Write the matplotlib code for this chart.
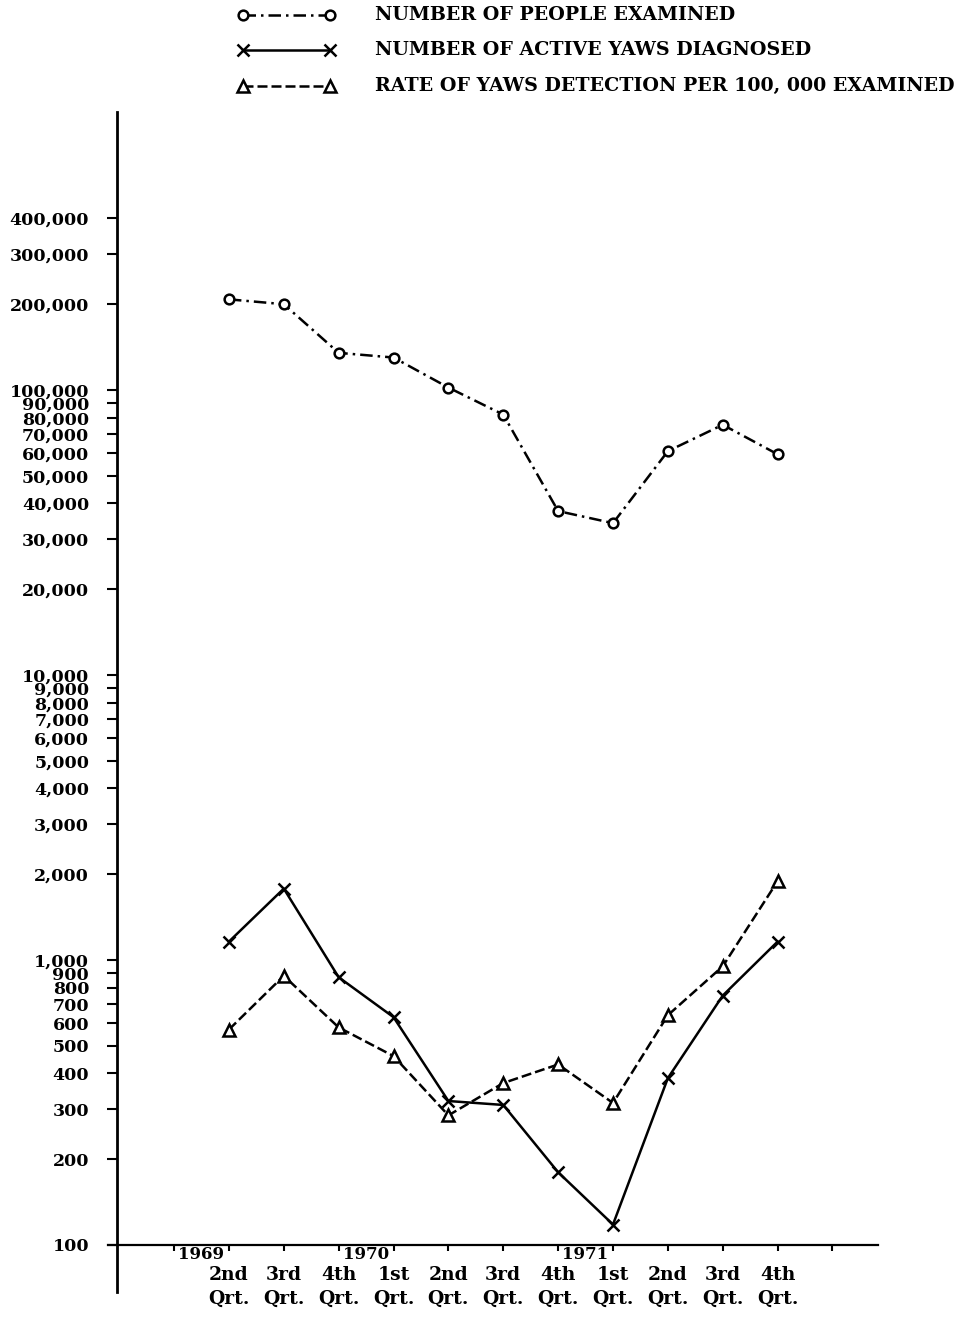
# yaws surveillance chart, quarterly 1969-1971 (log scale)
import matplotlib.pyplot as plt
from matplotlib.lines import Line2D
from matplotlib.ticker import FixedLocator, NullLocator

plt.rcParams['font.family'] = ['DejaVu Serif']
plt.rcParams['font.weight'] = 'bold'

# data
quarters = ['2nd\nQrt.', '3rd\nQrt.', '4th\nQrt.', '1st\nQrt.', '2nd\nQrt.', '3rd\nQrt.',
            '4th\nQrt.', '1st\nQrt.', '2nd\nQrt.', '3rd\nQrt.', '4th\nQrt.']
years = ['1969', '1970', '1971']
year_pos = [-0.5, 2.5, 6.5]

people_examined = [208000, 200000, 135000, 130000, 102000, 82000, 37600, 34100, 61000, 75500, 59500]
active_yaws = [1160, 1780, 870, 630, 320, 310, 180, 118, 385, 750, 1160]
detection_rate = [570, 880, 580, 460, 285, 370, 430, 315, 640, 950, 1890]

ytick_vals = [100, 200, 300, 400, 500, 600, 700, 800, 900,
              1000, 2000, 3000, 4000, 5000, 6000, 7000, 8000, 9000,
              10000, 20000, 30000, 40000, 50000, 60000, 70000, 80000, 90000,
              100000, 200000, 300000, 400000]
ytick_labels = [f"{v:,}" for v in ytick_vals]

legend_labels = ['NUMBER OF PEOPLE EXAMINED',
                 'NUMBER OF ACTIVE YAWS DIAGNOSED',
                 'RATE OF YAWS DETECTION PER 100, 000 EXAMINED']

x = list(range(len(quarters)))

fig = plt.figure(figsize=(9.6, 13.2), dpi=100)
ax = fig.add_axes([117 / 960, 1 - 1292 / 1320, (878 - 117) / 960, (1292 - 112) / 1320])
ax.set_yscale('log')
ax.set_xlim(-2.04, 11.83)
ax.set_ylim(68.4, 945000)

styles = [
    dict(linestyle=(0, (5, 2, 1, 2)), marker='o', markersize=7, markerfacecolor='white'),
    dict(linestyle='-', marker='x', markersize=8),
    dict(linestyle=(0, (4, 1.6)), marker='^', markersize=8, markerfacecolor='white'),
]
series = [people_examined, active_yaws, detection_rate]
for vals, st in zip(series, styles):
    ax.plot(x, vals, color='black', linewidth=1.8, markeredgewidth=1.8,
            markeredgecolor='black', **st)

# axes look
for s in ['top', 'right']:
    ax.spines[s].set_visible(False)
ax.spines['left'].set_linewidth(2)
ax.spines['bottom'].set_position(('data', 100))
ax.spines['bottom'].set_linewidth(1.6)
ax.spines['bottom'].set_bounds(-2.2, 11.83)

ax.yaxis.set_major_locator(FixedLocator(ytick_vals))
ax.yaxis.set_minor_locator(NullLocator())
ax.set_yticklabels(ytick_labels)
ax.tick_params(axis='y', direction='out', length=7, width=1.5, pad=13, labelsize=12.5)

ax.set_xticks(range(-1, 12))
ax.set_xticklabels([''] + quarters + [''])
ax.tick_params(axis='x', direction='out', length=4, width=1.5, pad=11, labelsize=13.5)
for lbl in ax.get_xticklabels():
    lbl.set_linespacing(1.4)

for yr, pos in zip(years, year_pos):
    ax.annotate(yr, (pos, 100), xytext=(0, -1), textcoords='offset points',
                ha='center', va='top', fontsize=12, fontweight='bold')

# legend drawn by hand, like the original
leg_y = [15, 50, 86]
for (st, label, yp) in zip(styles, legend_labels, leg_y):
    yf = 1 - yp / 1320
    fig.add_artist(Line2D([243 / 960, 330 / 960], [yf, yf], transform=fig.transFigure,
                          color='black', linewidth=1.8, markeredgewidth=1.8,
                          markeredgecolor='black', **st))
    fig.text(375 / 960, yf, label, ha='left', va='center', fontsize=13.7, fontweight='bold')

fig.savefig('out.png', dpi=100)
